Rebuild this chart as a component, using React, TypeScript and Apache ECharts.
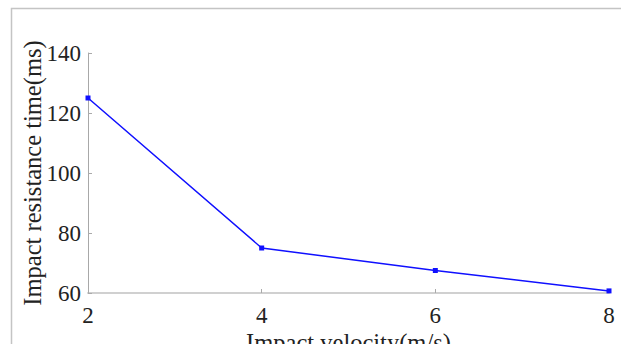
import React, { useEffect, useRef } from "react";
import * as echarts from "echarts";

const velocities = [2, 4, 6, 8];
const resistanceTimes = [125, 75, 67.5, 60.7];
const xAxisName = "Impact velocity(m/s)";
const yAxisName = "Impact resistance time(ms)";

export default function App() {
  const ref = useRef<HTMLDivElement>(null);
  useEffect(() => {
    if (!ref.current) return;
    document.body.style.margin = "0";
    const chart = echarts.init(ref.current, undefined, { renderer: "svg", width: 621, height: 344 });
    const font = "'Liberation Serif', 'Times New Roman', serif";
    const labelStyle = {
      fontFamily: font,
      fontSize: 23,
      fontStyle: "normal",
      fontWeight: "normal",
      color: "#222",
    };
    const nameStyle = { fontFamily: font, fontSize: 24.5, color: "#222" };
    chart.setOption({
      animation: false,
      backgroundColor: "#ffffff",
      textStyle: { fontFamily: font },
      graphic: [
        {
          type: "rect",
          shape: { x: 11.5, y: 8.5, width: 700, height: 400 },
          style: { fill: "none", stroke: "#c4c4c4", lineWidth: 1.5 },
          silent: true,
        },
      ],
      grid: {
        left: 88,
        right: 12,
        top: 53,
        bottom: 51,
        containLabel: false,
        outerBoundsMode: "none",
      },
      xAxis: {
        type: "value",
        min: 2,
        max: 8,
        interval: 2,
        name: xAxisName,
        nameLocation: "middle",
        nameGap: 37,
        nameMoveOverlap: false,
        nameTextStyle: nameStyle,
        axisLine: { show: true, lineStyle: { color: "#d0d0d0", width: 2 } },
        axisTick: { show: true, inside: true, length: 4, lineStyle: { color: "#aaa" } },
        axisLabel: { ...labelStyle, margin: 11 },
        splitLine: { show: false },
      },
      yAxis: {
        type: "value",
        min: 60,
        max: 140,
        interval: 20,
        name: yAxisName,
        nameLocation: "middle",
        nameGap: 43,
        nameMoveOverlap: false,
        nameTextStyle: nameStyle,
        axisLine: { show: true, lineStyle: { color: "#a8a8a8", width: 1 } },
        axisTick: { show: true, inside: true, length: 4, lineStyle: { color: "#aaa" } },
        axisLabel: { ...labelStyle, margin: 7 },
        splitLine: { show: false },
      },
      series: [
        {
          type: "line",
          data: velocities.map((v, i) => [v, resistanceTimes[i]]),
          symbol: "rect",
          symbolSize: 5,
          lineStyle: { color: "#1010ff", width: 1.5 },
          itemStyle: { color: "#1010ff" },
        },
      ],
    });
    return () => chart.dispose();
  }, []);
  return <div ref={ref} style={{ width: 621, height: 344, overflow: "hidden" }} />;
}
